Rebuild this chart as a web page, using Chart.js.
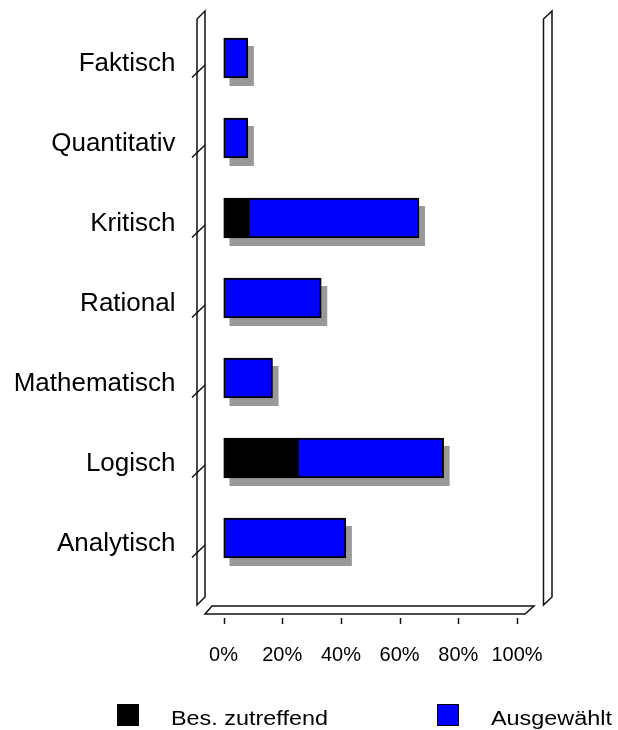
<!DOCTYPE html>
<html lang="de">
<head>
<meta charset="UTF-8">
<title>Denkstil</title>
<script src="https://cdn.jsdelivr.net/npm/chart.js"></script>
<style>
  body { margin: 0; background: #fff; }
  canvas { display: block; }
</style>
</head>
<body>
<canvas id="chart" width="618" height="730"></canvas>
<script>
// Werte in Prozent
var categories = ['Faktisch', 'Quantitativ', 'Kritisch', 'Rational', 'Mathematisch', 'Logisch', 'Analytisch'];
var besZutreffend = [0, 0, 8.3, 0, 0, 25, 0];
var ausgewaehlt = [8.3, 8.3, 58.3, 33.3, 16.7, 50, 41.7];
var xTicks = [0, 20, 40, 60, 80, 100];
var seriesNames = ['Bes. zutreffend', 'Ausgewählt'];
var seriesColors = ['#000000', '#0000ff'];

var FONT = '"Liberation Sans", Arial, sans-serif';
var BAR = 40;

// Rahmen im Pseudo-3D-Stil: Seitenwaende, Boden, schraege Kategorie-Striche, Skalenstriche
var framePlugin = {
    id: 'frame3d',
    beforeDatasetsDraw: function(chart) {
        var ctx = chart.ctx;
        var a = chart.chartArea;
        var xs = chart.scales.x, ys = chart.scales.y;
        var x0 = xs.getPixelForValue(0), x100 = xs.getPixelForValue(100);
        ctx.save();
        ctx.strokeStyle = '#111';
        ctx.lineWidth = 1.5;

        function wall(xf, xb) {
            ctx.beginPath();
            ctx.moveTo(xf, a.top + 1);
            ctx.lineTo(xf, a.bottom + 27);
            ctx.lineTo(xb, a.bottom + 19);
            ctx.lineTo(xb, a.top - 7);
            ctx.closePath();
            ctx.stroke();
        }
        wall(x0 - 26.5, x0 - 18.5);
        wall(x100 + 26.5, x100 + 35);

        // Boden
        ctx.beginPath();
        ctx.moveTo(x0 - 18.5, a.bottom + 36);
        ctx.lineTo(x0 - 11.5, a.bottom + 28);
        ctx.lineTo(x100 + 17, a.bottom + 28);
        ctx.lineTo(x100 + 8, a.bottom + 36);
        ctx.closePath();
        ctx.stroke();

        // schraege Striche je Kategorie an der linken Wand
        categories.forEach(function(c, i) {
            var y = ys.getPixelForValue(i) + 7;
            ctx.beginPath();
            ctx.moveTo(x0 - 31.5, y + 12.5);
            ctx.lineTo(x0 - 18.5, y);
            ctx.stroke();
        });

        // Skalenstriche unter dem Boden
        xTicks.forEach(function(v) {
            var x = Math.round(xs.getPixelForValue(v)) + 0.5;
            ctx.beginPath();
            ctx.moveTo(x, a.bottom + 40);
            ctx.lineTo(x, a.bottom + 46);
            ctx.stroke();
        });

        // Schatten hinter den Balken
        ctx.fillStyle = '#999999';
        categories.forEach(function(c, i) {
            var total = besZutreffend[i] + ausgewaehlt[i];
            var x1 = xs.getPixelForValue(total);
            var yc = ys.getPixelForValue(i);
            ctx.fillRect(x0 + 6, yc - BAR / 2 + 8, x1 - x0, BAR);
        });
        ctx.restore();
    },
    afterDraw: function(chart) {
        // Legende unten
        var ctx = chart.ctx;
        var boxX = [117, 437], textX = [171, 491];
        ctx.save();
        ctx.font = '20px ' + FONT;
        ctx.textBaseline = 'alphabetic';
        chart.data.datasets.forEach(function(ds, k) {
            ctx.fillStyle = ds.backgroundColor;
            ctx.fillRect(boxX[k], 704, 22, 22);
            ctx.strokeStyle = '#000';
            ctx.lineWidth = 1;
            ctx.strokeRect(boxX[k] + 0.5, 704.5, 21, 21);
            ctx.fillStyle = '#000';
            ctx.save();
            ctx.translate(textX[k], 725);
            ctx.scale(1.17, 1);
            ctx.fillText(ds.label, 0, 0);
            ctx.restore();
        });
        ctx.restore();
    }
};

new Chart(document.getElementById('chart'), {
    type: 'bar',
    data: {
        labels: categories,
        datasets: [{
            label: seriesNames[0],
            data: besZutreffend,
            backgroundColor: seriesColors[0],
            borderColor: '#000',
            borderWidth: 2,
            borderSkipped: false,
            barThickness: BAR
        }, {
            label: seriesNames[1],
            data: ausgewaehlt,
            backgroundColor: seriesColors[1],
            borderColor: '#000',
            borderWidth: 2,
            borderSkipped: false,
            barThickness: BAR
        }]
    },
    options: {
        indexAxis: 'y',
        responsive: false,
        animation: false,
        devicePixelRatio: 1,
        layout: { padding: { top: 18, right: 101, bottom: 52, left: 0 } },
        plugins: {
            legend: { display: false },
            tooltip: { enabled: false }
        },
        scales: {
            x: {
                stacked: true,
                min: 0,
                max: 100,
                afterBuildTicks: function(scale) {
                    scale.ticks = xTicks.map(function(v) { return { value: v }; });
                },
                afterFit: function(scale) {
                    scale.height = 100;
                    scale.paddingLeft = 0;
                    scale.paddingRight = 0;
                },
                grid: { display: false, drawTicks: false },
                border: { display: false },
                ticks: {
                    padding: 65,
                    color: '#000',
                    font: { family: FONT, size: 20 },
                    maxRotation: 0,
                    callback: function(v) { return v + '%'; }
                }
            },
            y: {
                stacked: true,
                afterFit: function(scale) {
                    scale.width = 223.5;
                    scale.paddingTop = 0;
                    scale.paddingBottom = 0;
                },
                grid: { display: false, drawTicks: false },
                border: { display: false },
                ticks: {
                    padding: 48,
                    labelOffset: 6,
                    color: '#000',
                    font: { family: FONT, size: 26 }
                }
            }
        }
    },
    plugins: [framePlugin]
});
</script>
</body>
</html>
